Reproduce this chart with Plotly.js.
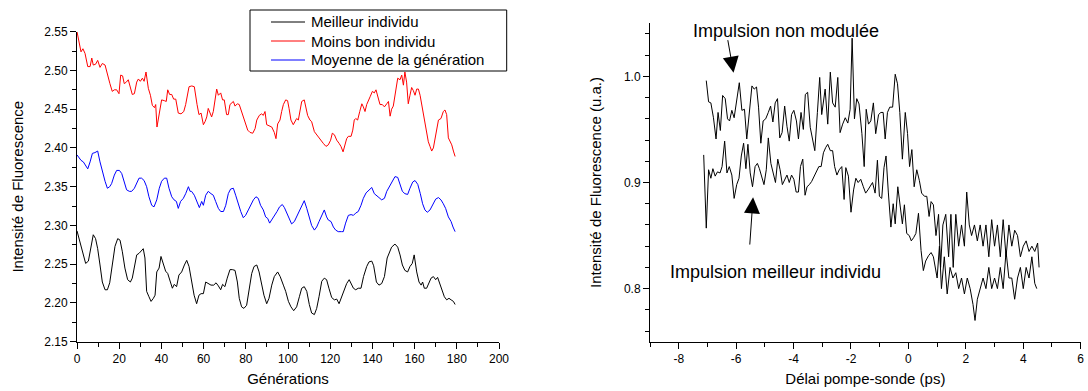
<!DOCTYPE html>
<html>
<head>
<meta charset="utf-8">
<script src="https://cdn.plot.ly/plotly-3.0.1.min.js"></script>
<style>html,body{margin:0;padding:0;background:#fff}#chart{width:1088px;height:391px}</style>
</head>
<body>
<div id="chart"></div>
<script>
// ---------- Left chart: evolution over generations ----------
const genBest = [0,1.9,3.0,4.1,5.4,6.5,7.7,8.8,9.8,10.9,12.0,13.3,14.4,15.5,16.7,18.0,19.3,20.4,21.5,22.7,24.0,25.3,26.2,27.2,28.3,29.4,30.6,31.4,32.2,33.0,34.1,35.1,36.2,37.0,37.8,38.9,39.8,40.9,42.0,43.0,44.1,45.2,46.1,47.2,48.3,49.6,50.9,52.0,53.1,54.3,55.5,56.7,57.8,58.8,59.9,61.0,62.2,63.5,64.8,65.9,67.0,68.1,69.0,70.1,71.2,72.5,73.6,74.9,76.0,76.9,78.0,79.1,80.4,81.5,82.8,83.9,85.2,86.3,87.5,88.6,89.9,91.0,92.3,93.5,95.1,96.3,97.8,98.9,100.2,101.4,102.7,104.1,105.4,106.5,107.7,108.9,110.1,111.2,112.5,113.6,114.7,116.0,117.2,118.3,119.4,120.7,122.0,123.1,124.2,125.4,126.7,127.8,129.0,129.9,131.0,132.1,133.3,134.6,135.8,137.3,138.4,139.7,140.6,141.9,143.1,144.4,145.7,147.0,148.0,149.1,150.7,152.0,153.1,154.2,155.4,156.7,157.8,158.9,159.8,161.0,162.1,163.1,163.8,164.6,165.7,166.8,167.8,168.9,170.0,170.9,172.0,173.1,174.1,175.2,176.3,177.3,178.4,179.2];
const bestVals = [2.293,2.273,2.262,2.251,2.254,2.270,2.288,2.283,2.270,2.249,2.227,2.217,2.217,2.226,2.249,2.273,2.283,2.281,2.266,2.245,2.230,2.227,2.232,2.249,2.262,2.264,2.267,2.270,2.258,2.215,2.208,2.202,2.206,2.210,2.240,2.245,2.260,2.251,2.241,2.238,2.227,2.219,2.224,2.221,2.236,2.240,2.249,2.255,2.247,2.227,2.210,2.199,2.210,2.212,2.212,2.227,2.225,2.223,2.223,2.226,2.222,2.217,2.224,2.221,2.232,2.243,2.243,2.242,2.227,2.206,2.195,2.193,2.197,2.219,2.238,2.247,2.249,2.240,2.225,2.210,2.199,2.206,2.223,2.234,2.240,2.234,2.223,2.215,2.202,2.195,2.190,2.195,2.208,2.219,2.221,2.215,2.198,2.187,2.185,2.193,2.208,2.228,2.232,2.230,2.219,2.207,2.204,2.205,2.199,2.208,2.217,2.225,2.230,2.225,2.219,2.217,2.219,2.219,2.234,2.247,2.253,2.254,2.248,2.227,2.223,2.225,2.234,2.258,2.264,2.272,2.276,2.272,2.262,2.249,2.242,2.240,2.247,2.251,2.262,2.240,2.227,2.223,2.227,2.219,2.219,2.225,2.232,2.234,2.230,2.233,2.225,2.215,2.208,2.204,2.206,2.204,2.202,2.198];

const genWorst = [0,1.9,2.8,3.8,5.1,6.2,7.0,7.7,8.8,9.8,10.9,12.0,13.3,14.1,14.9,15.6,16.7,17.7,18.8,19.9,20.7,21.6,22.4,23.4,24.3,25.6,26.2,27.2,28.3,29.1,30.0,31.0,31.8,32.7,33.8,34.8,35.7,36.7,37.3,37.9,38.9,40.1,41.4,42.3,43.0,43.9,44.9,45.8,46.8,47.4,48.0,49.3,50.6,51.5,52.5,53.1,54.4,55.6,56.9,57.8,58.8,59.9,60.7,61.5,62.2,63.0,63.8,64.6,65.4,66.2,67.0,68.1,69.0,69.8,70.9,71.7,72.5,73.3,74.1,74.9,76.0,76.9,78.0,78.8,79.6,80.9,82.0,83.3,84.4,85.2,86.4,87.5,88.3,89.1,89.9,91.0,92.3,93.5,94.3,95.1,96.2,97.0,97.8,98.9,99.8,100.5,101.4,102.5,103.3,104.1,104.9,105.7,106.5,107.7,108.4,109.3,110.4,111.2,112.5,113.6,114.7,115.6,116.7,118.0,119.1,120.2,121.0,122.0,123.1,124.2,125.1,126.1,127.0,127.8,128.6,129.9,130.7,131.4,132.1,133.0,134.0,135.0,135.7,136.5,137.3,138.1,138.9,140.0,140.9,141.7,142.5,143.6,144.7,145.7,146.8,147.6,148.4,149.1,149.9,151.0,152.0,153.1,153.9,154.7,155.4,156.2,157.0,157.8,158.6,159.4,160.2,161.0,161.8,162.6,163.4,164.2,164.9,165.7,166.5,167.3,168.1,168.9,169.7,170.5,171.3,172.5,173.6,174.4,175.2,176.0,176.8,177.6,178.4,179.2];
const worstVals = [2.550,2.524,2.528,2.522,2.505,2.505,2.516,2.507,2.508,2.513,2.504,2.509,2.507,2.498,2.490,2.483,2.473,2.475,2.475,2.470,2.494,2.493,2.483,2.485,2.488,2.477,2.469,2.470,2.485,2.489,2.486,2.490,2.486,2.498,2.477,2.468,2.455,2.452,2.456,2.427,2.445,2.462,2.461,2.460,2.475,2.469,2.469,2.463,2.463,2.456,2.445,2.444,2.447,2.456,2.473,2.479,2.480,2.479,2.456,2.443,2.445,2.430,2.434,2.440,2.451,2.445,2.440,2.447,2.460,2.476,2.468,2.471,2.462,2.462,2.443,2.443,2.456,2.458,2.460,2.454,2.457,2.456,2.447,2.443,2.434,2.423,2.420,2.419,2.425,2.436,2.442,2.444,2.442,2.447,2.430,2.429,2.427,2.420,2.412,2.431,2.436,2.447,2.456,2.462,2.461,2.451,2.436,2.430,2.434,2.438,2.436,2.451,2.460,2.462,2.453,2.442,2.436,2.434,2.421,2.417,2.412,2.410,2.406,2.402,2.404,2.410,2.419,2.417,2.410,2.406,2.402,2.395,2.406,2.412,2.415,2.415,2.423,2.436,2.438,2.436,2.447,2.457,2.453,2.447,2.456,2.462,2.466,2.473,2.471,2.475,2.466,2.456,2.456,2.453,2.457,2.460,2.441,2.450,2.454,2.473,2.490,2.488,2.494,2.481,2.498,2.485,2.457,2.468,2.478,2.474,2.468,2.476,2.476,2.468,2.455,2.443,2.430,2.417,2.408,2.402,2.396,2.400,2.412,2.425,2.436,2.438,2.447,2.449,2.443,2.413,2.408,2.404,2.396,2.389];

const genMean = [0,1.9,3.0,4.1,5.1,6.2,7.3,8.5,9.8,10.9,12.0,13.3,14.4,15.5,16.4,17.7,18.8,20.1,21.2,22.4,23.5,24.8,25.9,27.2,28.3,29.4,30.6,31.8,33.0,34.1,35.4,36.5,37.8,39.0,40.1,41.4,42.5,43.6,44.9,46.0,47.1,48.0,49.1,50.4,51.5,52.8,53.6,54.3,55.6,56.9,58.0,59.1,59.9,61.0,62.2,63.5,64.6,65.7,67.0,68.1,69.4,70.5,71.7,72.8,74.1,75.2,76.5,77.6,78.8,79.9,81.2,82.3,83.6,84.8,85.9,87.0,88.3,89.4,90.4,91.3,92.3,93.5,94.8,96.0,97.3,98.3,99.4,100.5,101.7,103.0,104.1,105.4,106.5,107.7,108.9,109.9,111.2,112.5,113.6,114.7,116.0,117.2,118.3,119.1,120.4,121.5,122.6,123.8,125.4,126.2,127.3,128.6,129.9,131.0,132.1,133.3,134.6,135.7,137.0,138.4,139.7,140.9,142.0,143.1,144.4,145.7,146.8,148.0,149.1,150.7,152.0,153.1,154.2,155.4,156.7,157.8,159.1,160.2,161.5,162.7,163.8,164.9,166.0,167.3,168.6,170.0,171.3,172.5,173.6,174.7,176.0,177.3,178.2,179.2];
const meanVals = [2.391,2.384,2.382,2.378,2.373,2.382,2.393,2.394,2.396,2.382,2.369,2.357,2.348,2.350,2.354,2.365,2.371,2.371,2.367,2.357,2.346,2.344,2.344,2.348,2.354,2.361,2.361,2.358,2.350,2.337,2.326,2.324,2.333,2.348,2.357,2.361,2.361,2.348,2.337,2.333,2.331,2.322,2.331,2.335,2.341,2.350,2.344,2.344,2.339,2.331,2.323,2.331,2.326,2.339,2.344,2.341,2.339,2.331,2.322,2.318,2.318,2.326,2.341,2.347,2.348,2.339,2.326,2.318,2.310,2.313,2.320,2.326,2.333,2.337,2.335,2.326,2.320,2.311,2.309,2.303,2.307,2.313,2.318,2.324,2.327,2.323,2.316,2.310,2.302,2.305,2.311,2.318,2.324,2.332,2.322,2.311,2.300,2.294,2.298,2.305,2.313,2.320,2.311,2.307,2.305,2.298,2.294,2.292,2.292,2.292,2.303,2.313,2.314,2.313,2.316,2.318,2.326,2.335,2.342,2.346,2.349,2.341,2.338,2.336,2.333,2.335,2.344,2.350,2.357,2.363,2.362,2.354,2.344,2.341,2.340,2.348,2.356,2.358,2.353,2.341,2.328,2.320,2.317,2.320,2.326,2.334,2.336,2.333,2.328,2.322,2.311,2.305,2.298,2.292];

// ---------- Right chart: pump-probe scans ----------
const delayUnmod = [-7.04,-6.96,-6.88,-6.79,-6.70,-6.63,-6.55,-6.47,-6.38,-6.30,-6.23,-6.15,-6.07,-5.98,-5.89,-5.80,-5.71,-5.63,-5.54,-5.45,-5.37,-5.29,-5.22,-5.14,-5.06,-4.97,-4.88,-4.80,-4.72,-4.64,-4.56,-4.48,-4.40,-4.31,-4.23,-4.15,-4.07,-3.99,-3.90,-3.83,-3.74,-3.66,-3.59,-3.51,-3.42,-3.34,-3.26,-3.17,-3.09,-3.02,-2.90,-2.81,-2.72,-2.64,-2.55,-2.46,-2.38,-2.29,-2.20,-2.11,-2.03,-1.96,-1.88,-1.80,-1.72,-1.62,-1.54,-1.47,-1.39,-1.31,-1.22,-1.14,-1.04,-0.96,-0.88,-0.81,-0.73,-0.65,-0.55,-0.46,-0.38,-0.30,-0.21,-0.11,-0.03,0.04,0.12,0.20,0.29,0.38,0.46,0.56,0.64,0.72,0.79,0.87,0.96,1.05,1.12,1.2,1.3,1.4,1.48,1.56,1.65,1.75,1.85,1.95,2.03,2.12,2.2,2.3,2.4,2.5,2.6,2.7,2.8,2.9,3.0,3.1,3.2,3.3,3.4,3.5,3.6,3.7,3.8,3.9,4.0,4.1,4.2,4.3,4.4,4.5,4.55];
const unmodVals = [0.996,0.976,0.975,0.961,0.941,0.966,0.949,0.982,0.979,0.960,0.958,0.968,0.961,0.979,0.994,0.968,0.969,0.941,0.968,0.991,0.988,0.990,0.971,0.937,0.958,0.960,0.966,0.972,0.957,0.975,0.979,0.942,0.947,0.972,0.953,0.939,0.964,0.968,0.958,0.941,0.966,0.950,0.983,0.985,0.952,0.941,0.930,0.966,0.999,0.964,0.988,0.955,1.004,0.975,0.971,0.999,0.947,0.955,0.961,0.956,0.969,1.036,0.960,0.979,0.974,0.946,0.915,0.969,0.955,0.958,0.975,0.946,0.964,0.966,0.966,0.941,0.966,0.971,0.971,1.002,0.993,0.966,0.922,0.966,0.946,0.915,0.931,0.896,0.912,0.902,0.890,0.887,0.887,0.868,0.882,0.879,0.85,0.87,0.82,0.86,0.87,0.83,0.87,0.82,0.87,0.84,0.86,0.84,0.891,0.86,0.85,0.86,0.845,0.86,0.84,0.86,0.83,0.865,0.84,0.86,0.83,0.865,0.83,0.86,0.84,0.855,0.85,0.83,0.84,0.845,0.835,0.84,0.835,0.843,0.82];

const delayBest = [-7.13,-7.04,-6.96,-6.88,-6.81,-6.73,-6.65,-6.56,-6.49,-6.40,-6.32,-6.24,-6.15,-6.07,-5.98,-5.90,-5.82,-5.74,-5.66,-5.59,-5.51,-5.43,-5.34,-5.26,-5.19,-5.11,-5.03,-4.95,-4.88,-4.79,-4.71,-4.63,-4.55,-4.47,-4.39,-4.31,-4.23,-4.15,-4.07,-3.99,-3.91,-3.83,-3.76,-3.68,-3.60,-3.53,-3.45,-3.37,-3.28,-3.20,-3.12,-3.04,-2.96,-2.88,-2.81,-2.72,-2.64,-2.57,-2.49,-2.41,-2.32,-2.24,-2.18,-2.09,-2.00,-1.91,-1.83,-1.75,-1.66,-1.57,-1.49,-1.41,-1.33,-1.25,-1.16,-1.08,-1.01,-0.93,-0.85,-0.78,-0.70,-0.61,-0.53,-0.46,-0.37,-0.29,-0.21,-0.14,-0.06,0.03,0.10,0.18,0.26,0.35,0.44,0.52,0.60,0.70,0.79,0.87,1.00,1.08,1.15,1.25,1.35,1.45,1.55,1.65,1.75,1.85,1.95,2.05,2.15,2.25,2.32,2.40,2.50,2.60,2.70,2.80,2.90,3.00,3.10,3.20,3.30,3.40,3.50,3.60,3.70,3.80,3.90,4.00,4.10,4.20,4.30,4.40,4.47];
const bestScanVals = [0.926,0.857,0.912,0.904,0.913,0.906,0.910,0.909,0.915,0.939,0.909,0.915,0.907,0.885,0.898,0.904,0.925,0.937,0.913,0.936,0.909,0.896,0.915,0.918,0.913,0.906,0.898,0.912,0.942,0.918,0.909,0.900,0.922,0.912,0.898,0.903,0.907,0.900,0.907,0.903,0.891,0.891,0.915,0.922,0.888,0.896,0.898,0.901,0.906,0.909,0.915,0.915,0.928,0.933,0.936,0.930,0.930,0.915,0.907,0.912,0.915,0.884,0.914,0.906,0.872,0.893,0.904,0.900,0.903,0.896,0.890,0.893,0.896,0.900,0.890,0.921,0.887,0.885,0.914,0.925,0.891,0.858,0.880,0.861,0.896,0.880,0.861,0.879,0.852,0.850,0.845,0.848,0.852,0.871,0.836,0.817,0.826,0.831,0.834,0.830,0.81,0.84,0.80,0.83,0.795,0.82,0.81,0.815,0.80,0.81,0.795,0.81,0.80,0.785,0.77,0.79,0.80,0.81,0.80,0.82,0.80,0.81,0.80,0.82,0.80,0.835,0.81,0.81,0.79,0.81,0.82,0.80,0.82,0.81,0.83,0.805,0.80];

const legendNames = ['Meilleur individu', 'Moins bon individu', 'Moyenne de la génération'];
const legendColors = ['#000000', '#ff0000', '#0000ff'];
const leftXTicks = [0,20,40,60,80,100,120,140,160,180,200];
const rightXTicks = [-8,-6,-4,-2,0,2,4,6];
const rightXTickText = ['-8','-6','-4','-2','0','2','4','6'];

// ---------- Layout helpers (pixel -> paper) ----------
const W = 1088, H = 391;
const px = v => v / W;
const py = v => 1 - v / H;
const FONT = 'Liberation Sans, Arial, Helvetica, sans-serif';

const traces = [
  {x: genBest, y: bestVals, name: legendNames[0], type: 'scatter', mode: 'lines',
   line: {color: legendColors[0], width: 1}, xaxis: 'x', yaxis: 'y'},
  {x: genWorst, y: worstVals, name: legendNames[1], type: 'scatter', mode: 'lines',
   line: {color: legendColors[1], width: 1}, xaxis: 'x', yaxis: 'y'},
  {x: genMean, y: meanVals, name: legendNames[2], type: 'scatter', mode: 'lines',
   line: {color: legendColors[2], width: 1}, xaxis: 'x', yaxis: 'y'},
  {x: delayUnmod, y: unmodVals, name: 'Impulsion non modulée', type: 'scatter', mode: 'lines',
   line: {color: '#000000', width: 1}, xaxis: 'x2', yaxis: 'y2'},
  {x: delayBest, y: bestScanVals, name: 'Impulsion meilleur individu', type: 'scatter', mode: 'lines',
   line: {color: '#000000', width: 1}, xaxis: 'x2', yaxis: 'y2'}
];

const axisCommon = {
  showline: true, linecolor: '#000', linewidth: 1, mirror: false,
  showgrid: false, zeroline: false,
  ticks: 'outside', ticklen: 6, tickwidth: 1, tickcolor: '#000',
  tickfont: {family: FONT, size: 12, color: '#000'},
  fixedrange: true
};

// Legend box (drawn as shapes + text so the row spacing matches the figure)
const legendRowsY = [22, 41, 60];
const legendShapes = [
  {type: 'rect', xref: 'paper', yref: 'paper',
   x0: px(250), x1: px(506.7), y0: py(71), y1: py(10),
   line: {color: '#000', width: 1}, fillcolor: '#ffffff', layer: 'above'}
].concat(legendRowsY.map((yy, i) => ({
  type: 'line', xref: 'paper', yref: 'paper', layer: 'above',
  x0: px(271), x1: px(305), y0: py(yy), y1: py(yy),
  line: {color: legendColors[i], width: 1}
})));
const legendTexts = legendRowsY.map((yy, i) => ({
  xref: 'paper', yref: 'paper', x: px(309), y: py(yy), text: legendNames[i],
  showarrow: false, xanchor: 'left', yanchor: 'middle',
  font: {family: FONT, size: 15, color: '#000'}
}));

const layout = {
  width: W, height: H,
  margin: {l: 0, r: 0, t: 0, b: 0},
  paper_bgcolor: '#fff', plot_bgcolor: '#fff',
  font: {family: FONT, color: '#000'},
  showlegend: false,
  xaxis: Object.assign({}, axisCommon, {
    domain: [px(77), px(499)], anchor: 'y', range: [0, 200],
    tickvals: leftXTicks,
    minor: {ticks: 'outside', ticklen: 4, tickcolor: '#000', dtick: 10, tick0: 0},
    title: {text: 'Générations', font: {family: FONT, size: 15, color: '#000'}, standoff: 8}
  }),
  yaxis: Object.assign({}, axisCommon, {
    domain: [1 - 341.7 / H, 1 - 31.7 / H], anchor: 'x', range: [2.15, 2.55],
    dtick: 0.05, tick0: 2.15, tickformat: '.2f',
    minor: {ticks: 'outside', ticklen: 4, tickcolor: '#000', dtick: 0.025, tick0: 2.15},
    title: {text: 'Intensité de Fluorescence', font: {family: FONT, size: 15, color: '#000'}, standoff: 16}
  }),
  xaxis2: Object.assign({}, axisCommon, {
    domain: [px(650), px(1080.7)], anchor: 'y2', range: [-9, 6],
    tickvals: rightXTicks, ticktext: rightXTickText,
    minor: {ticks: 'outside', ticklen: 4, tickcolor: '#000', dtick: 1, tick0: 0},
    title: {text: 'Délai pompe-sonde (ps)', font: {family: FONT, size: 15, color: '#000'}, standoff: 8}
  }),
  yaxis2: Object.assign({}, axisCommon, {
    domain: [1 - 341.7 / H, 1 - 23.3 / H], anchor: 'x2', range: [0.75, 1.05],
    dtick: 0.1, tick0: 0.8, tickformat: '.1f',
    minor: {ticks: 'outside', ticklen: 4, tickcolor: '#000', dtick: 0.02, tick0: 0.8},
    title: {text: 'Intensité de Fluorescence (u.a.)', font: {family: FONT, size: 15, color: '#000'}, standoff: 18}
  }),
  shapes: legendShapes,
  annotations: legendTexts.concat([
    {xref: 'paper', yref: 'paper', x: px(786), y: py(31), text: 'Impulsion non modulée',
     showarrow: false, xanchor: 'center', yanchor: 'middle',
     font: {family: FONT, size: 18, color: '#000'}},
    {xref: 'x2', yref: 'y2', x: -6.09, y: 1.0035, text: '', showarrow: true,
     axref: 'pixel', ayref: 'pixel', ax: -6, ay: -34,
     arrowhead: 2, arrowsize: 3.2, arrowwidth: 1, arrowcolor: '#000'},
    {xref: 'paper', yref: 'paper', x: px(775), y: py(271.7), text: 'Impulsion meilleur individu',
     showarrow: false, xanchor: 'center', yanchor: 'middle',
     font: {family: FONT, size: 18, color: '#000'}},
    {xref: 'x2', yref: 'y2', x: -5.41, y: 0.886, text: '', showarrow: true,
     axref: 'pixel', ayref: 'pixel', ax: -3.4, ay: 48.7,
     arrowhead: 2, arrowsize: 3.2, arrowwidth: 1, arrowcolor: '#000'}
  ])
};

Plotly.newPlot('chart', traces, layout, {displayModeBar: false, staticPlot: true});
</script>
</body>
</html>
